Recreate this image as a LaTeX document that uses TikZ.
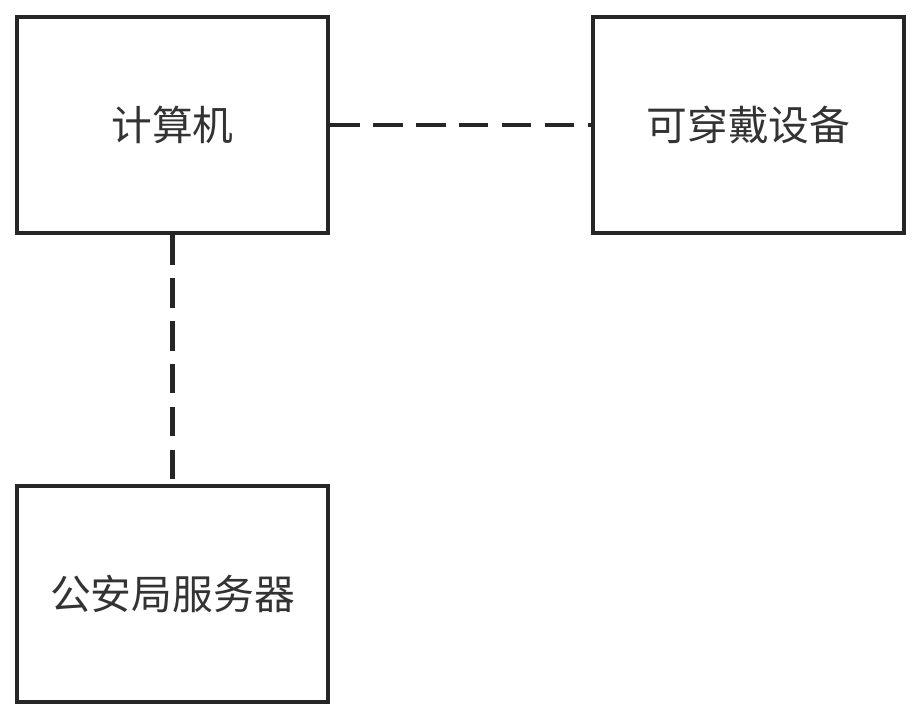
\documentclass[tikz,border=0pt]{standalone}
\usepackage{fontspec}
\setmainfont{Noto Sans CJK SC}
\usetikzlibrary{positioning}
\tikzset{
  blk/.style={draw=black!85,line width=3.2pt,minimum width=7.775cm,minimum height=5.4cm,
    inner sep=0pt,text=black!80,font=\fontsize{29}{32}\selectfont},
  link/.style={draw=black!85,line width=3.2pt,dash pattern=on 21pt off 9.5pt}
}
\begin{document}
\begin{tikzpicture}[x=0.025cm,y=-0.025cm]
	\useasboundingbox (0,0) rectangle (922,721);
	\node[blk] (pc) at (172.5,125) {计算机};
	\node[blk] (wear) at (748.5,125) {可穿戴设备};
	\node[blk] (srv) at (172.5,594) {公安局服务器};
	\draw[link] (pc.east) -- (wear.west);
	\draw[link] (pc.south) -- (srv.north);
\end{tikzpicture}
\end{document}
